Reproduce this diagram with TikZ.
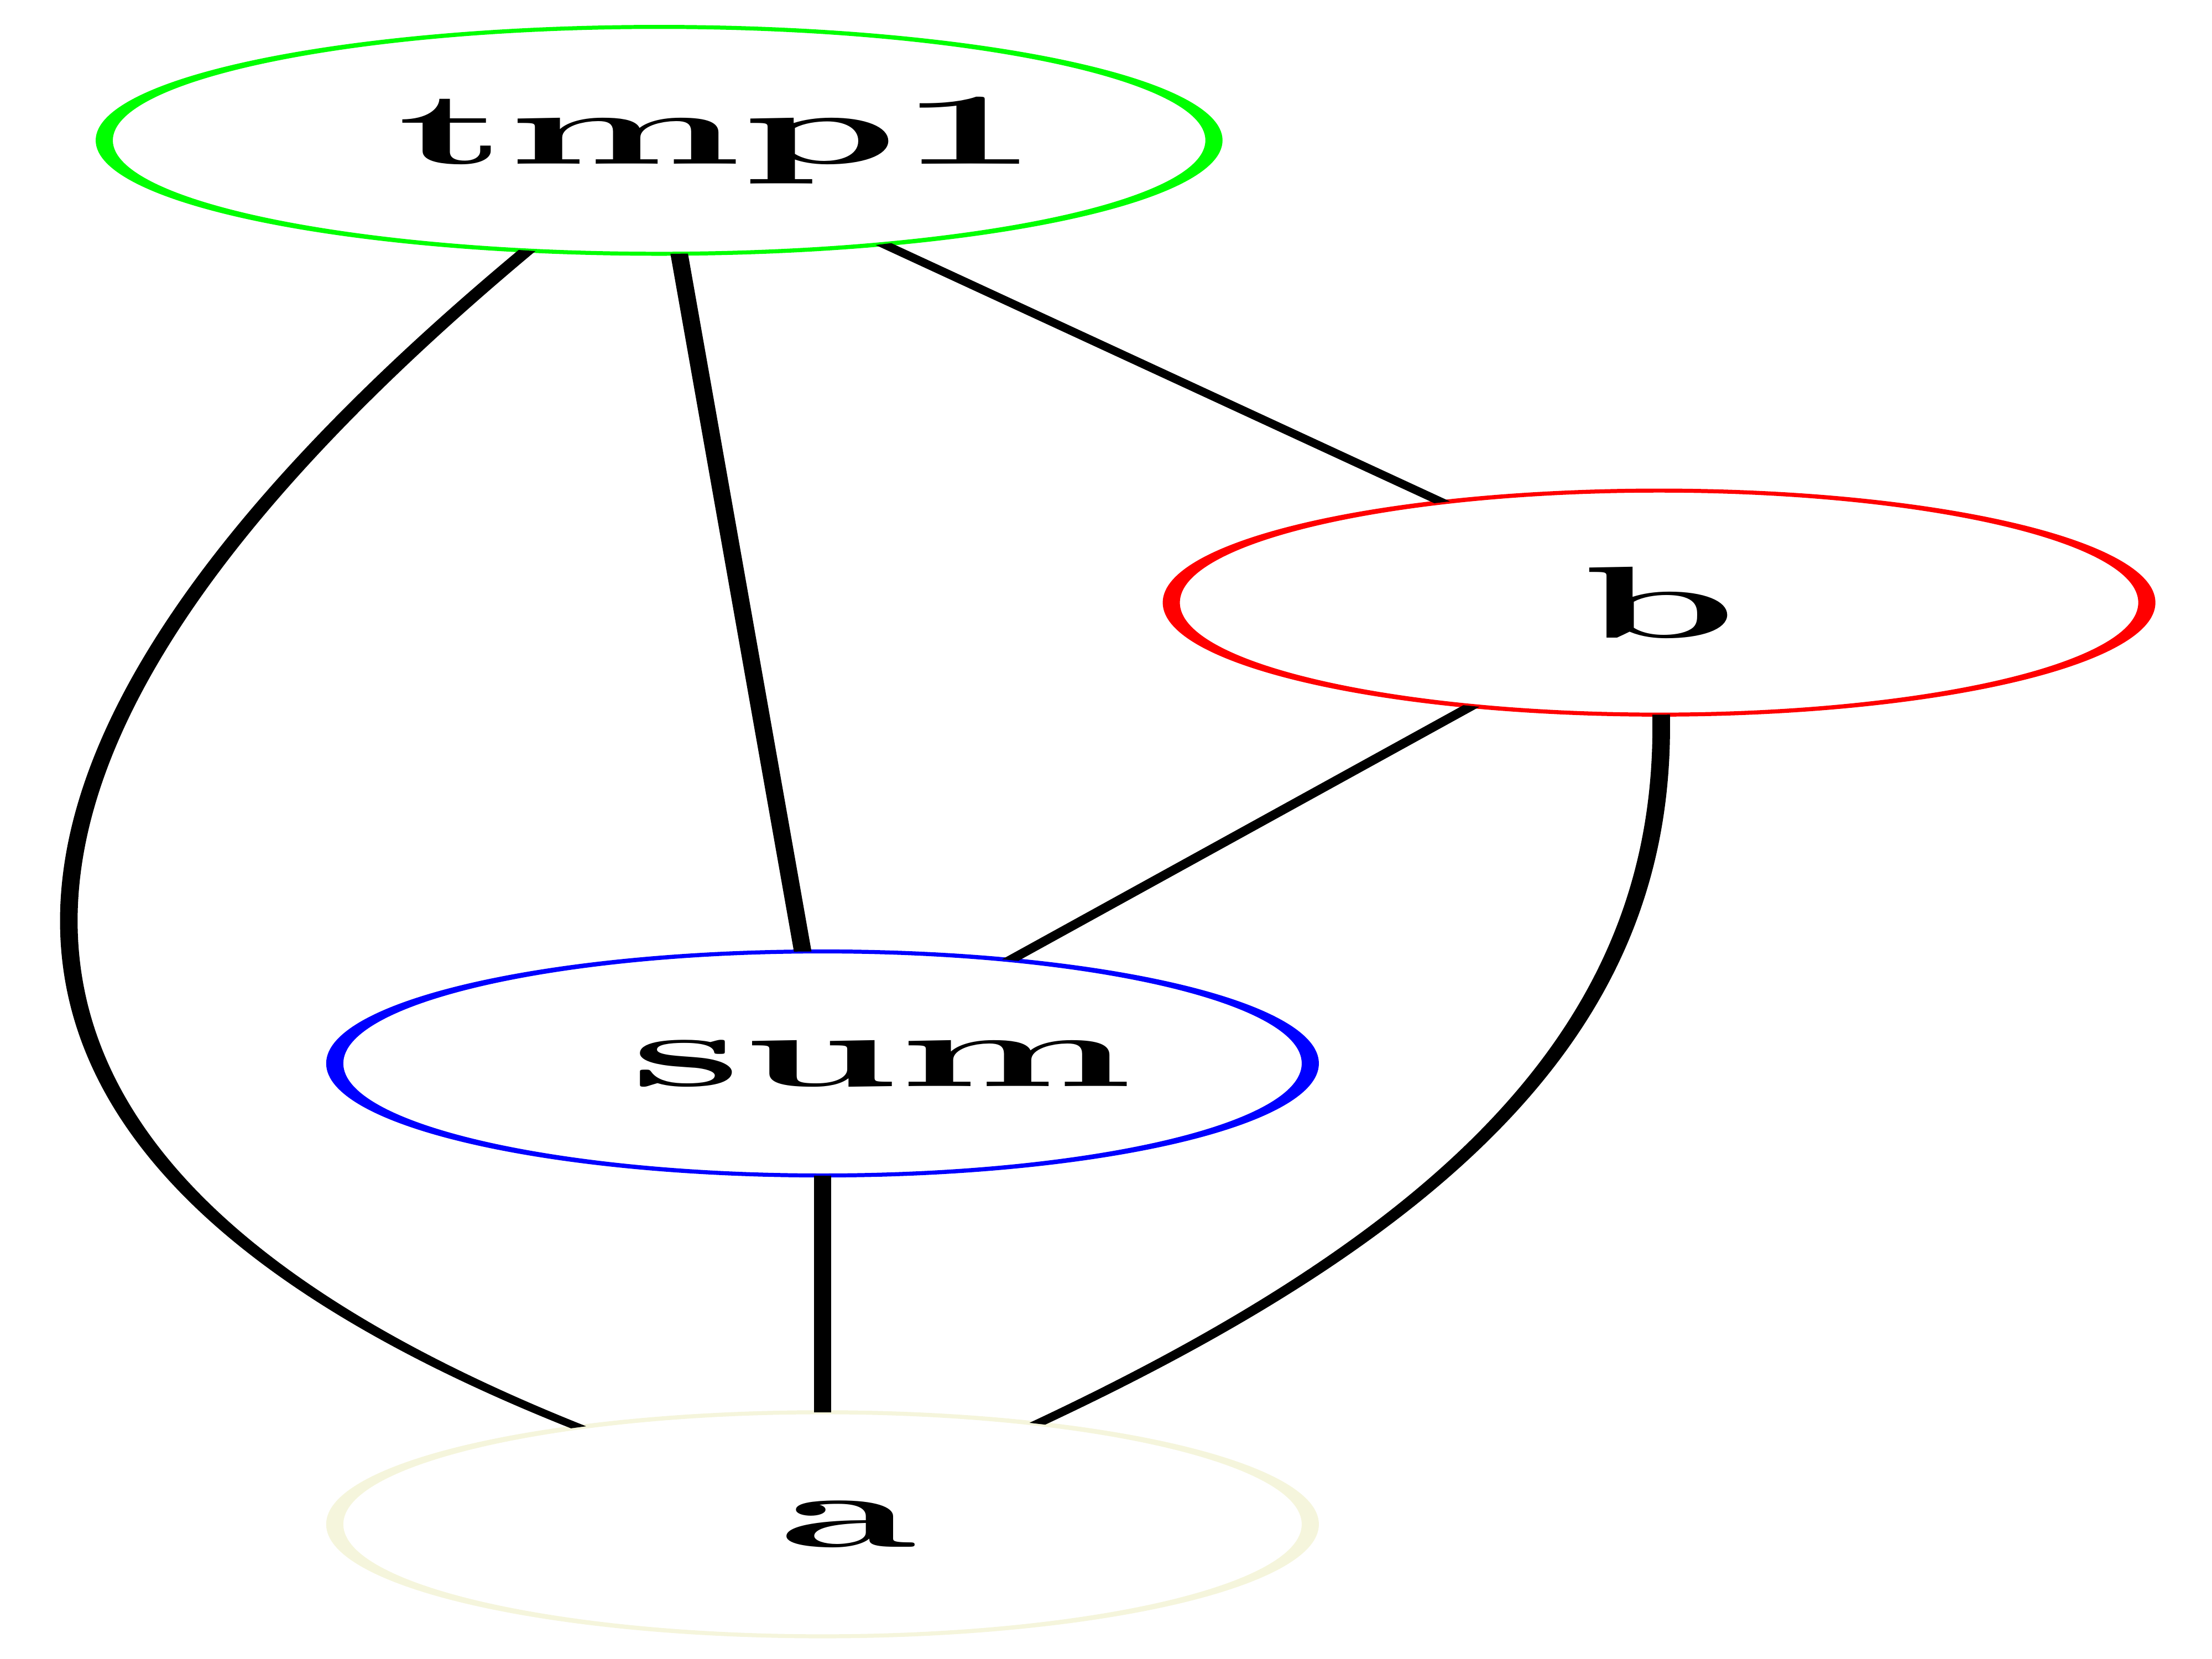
\documentclass[tikz,border=0pt]{standalone}
\usepackage{tikz}
\usepackage{graphicx}
\usetikzlibrary{shapes.geometric}
\definecolor{nodebeige}{HTML}{F5F5DC}
\newcommand{\thinlabel}[2][0pt]{\hspace*{#1}\scalebox{0.57}[1]{#2}}

\begin{document}
\begin{tikzpicture}[
  vertex/.style={ellipse, draw, line width=0.8pt, inner sep=0pt, outer sep=0pt,
    minimum width=1.6cm, minimum height=1.58cm, font=\fontsize{20.5}{24}\selectfont\bfseries},
  link/.style={line width=0.82pt}]
  \useasboundingbox (0, 0) rectangle (15.6, 11.7);
  \begin{scope}[transform canvas={xscale=4.3}]
    \node[vertex, draw=green, minimum width=1.82cm, minimum height=1.6cm] (tmp1) at (1.081, 10.71) {\thinlabel[0.195cm]{tmp1}};
    \node[vertex, draw=red] (b) at (2.721, 7.45) {\thinlabel{b}};
    \node[vertex, draw=blue] (sum) at (1.349, 4.20) {\thinlabel[0.195cm]{sum}};
    \node[vertex, draw=nodebeige] (a) at (1.349, 0.95) {\thinlabel[0.084cm]{a}};
    \draw[link] (tmp1) -- (b);
    \draw[link] (tmp1) -- (sum);
    \draw[link] (b) -- (sum);
    \draw[link] (sum) -- (a);
    \draw[link] (tmp1) .. controls (-0.140, 6.33) and (-0.163, 3.535) .. (a);
    \draw[link] (b) .. controls (2.733, 4.65) and (2.442, 3.15) .. (a);
  \end{scope}
\end{tikzpicture}
\end{document}
